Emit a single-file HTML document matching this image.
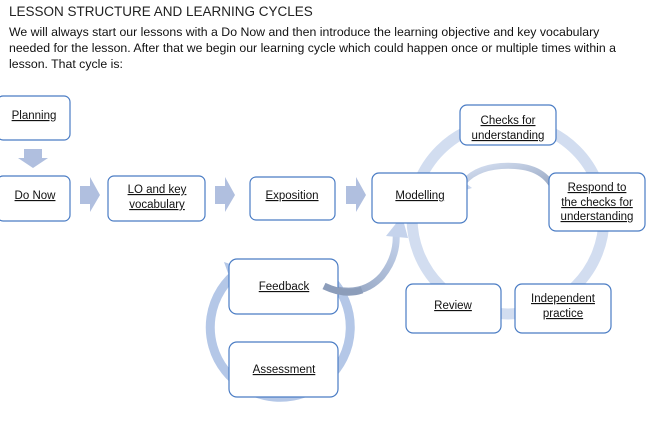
<!DOCTYPE html>
<html><head><style>
body{margin:0;width:659px;height:426px;background:#fff;overflow:hidden;font-family:"Liberation Sans",sans-serif;}
.t{position:absolute;left:9px;top:4px;font-size:13.5px;color:#222;}
.p{position:absolute;left:9px;top:24px;font-size:12.3px;line-height:16px;color:#111;width:655px;white-space:nowrap;}
svg{position:absolute;left:0;top:0}
svg text{font-family:"Liberation Sans",sans-serif;font-size:11.5px;fill:#111;text-decoration:underline;text-anchor:middle}
</style></head><body>
<div class="t">LESSON STRUCTURE AND LEARNING CYCLES</div>
<div class="p">We will always start our lessons with a Do Now and then introduce the learning objective and key vocabulary<br>needed for the lesson. After that we begin our learning cycle which could happen once or multiple times within a<br>lesson. That cycle is:</div>
<svg width="659" height="426">
<defs><linearGradient id="g1" x1="0" y1="1" x2="1" y2="0"><stop offset="0" stop-color="#8c9dba"/><stop offset="1" stop-color="#c5d3ec"/></linearGradient>
<linearGradient id="g2" x1="1" y1="1" x2="0" y2="0"><stop offset="0" stop-color="#8c9dba"/><stop offset="1" stop-color="#d6e0f2"/></linearGradient></defs>
<circle cx="508" cy="218" r="96" fill="none" stroke="#d2ddf0" stroke-width="11"/>
<path d="M240 270 A70 70 0 1 0 330 278" fill="none" stroke="#b4c7e7" stroke-width="9"/>
<polygon points="224,262 248,270 232,284" fill="#b4c7e7"/>
<path d="M324 286 Q360 300 382 276 Q398 256 396 232" fill="none" stroke="url(#g1)" stroke-width="7"/>
<polygon points="386,236 402,216 408,238" fill="#c5d3ec"/>
<path d="M556 195 Q548 168 515 166 Q480 164 464 182" fill="none" stroke="url(#g2)" stroke-width="6"/>
<polygon points="453,194 456,176 472,188" fill="#c9d6ee"/>
<polygon points="24,149 42,149 42,158 48,158 33,168 18,158 24,158" fill="#b0bfdf"/>
<polygon points="80,186 90,186 90,177 100,195 90,212 90,204 80,204" fill="#b0bfdf"/>
<polygon points="215,186 225,186 225,177 235,195 225,212 225,204 215,204" fill="#b0bfdf"/>
<polygon points="346,186 356,186 356,177 366,195 356,212 356,204 346,204" fill="#b0bfdf"/>
<g fill="#fff" stroke="#4a7cc4" stroke-width="1.2">
<rect x="-3" y="96" width="73" height="44" rx="6"/>
<rect x="-3" y="176" width="73" height="45" rx="6"/>
<rect x="108" y="176" width="97" height="45" rx="6"/>
<rect x="250" y="177" width="85" height="43" rx="6"/>
<rect x="372" y="173" width="95" height="50" rx="7"/>
<rect x="460" y="105" width="96" height="40" rx="7"/>
<rect x="549" y="173" width="96" height="58" rx="7"/>
<rect x="515" y="284" width="96" height="49" rx="7"/>
<rect x="406" y="284" width="95" height="49" rx="7"/>
<rect x="229" y="259" width="109" height="55" rx="8"/>
<rect x="229" y="342" width="109" height="55" rx="8"/>
</g>
<path d="M324 286 Q345 296 362 290" fill="none" stroke="#8c9dba" stroke-width="7"/>
<text x="34" y="119">Planning</text>
<text x="35" y="199">Do Now</text>
<text x="157" y="193">LO and key</text>
<text x="157" y="208">vocabulary</text>
<text x="292" y="199">Exposition</text>
<text x="420" y="199">Modelling</text>
<text x="508" y="124">Checks for</text>
<text x="508" y="139">understanding</text>
<text x="597" y="191">Respond to</text>
<text x="597" y="206">the checks for</text>
<text x="597" y="220">understanding</text>
<text x="563" y="302">Independent</text>
<text x="563" y="317">practice</text>
<text x="453" y="309">Review</text>
<text x="284" y="290">Feedback</text>
<text x="284" y="373">Assessment</text>
</svg>
</body></html>
